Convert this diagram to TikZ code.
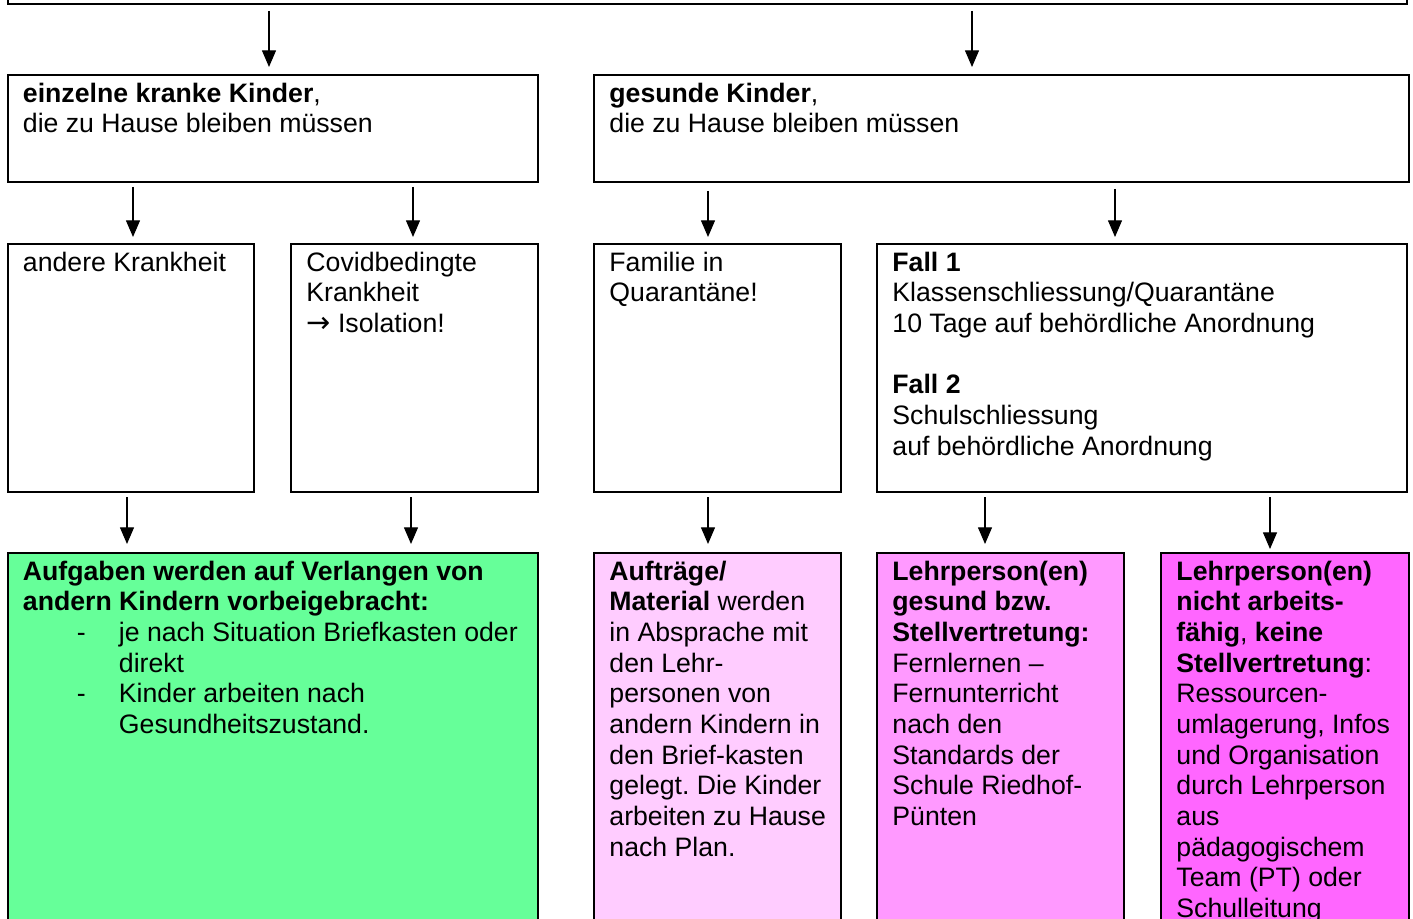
\documentclass[tikz,border=0pt]{standalone}
\usepackage{fontspec}
\setmainfont{Liberation Sans}
\newfontfamily\symfont{DejaVu Sans}
\usetikzlibrary{arrows.meta,calc,fit}
\frenchspacing
\definecolor{cgreen}{HTML}{66FF99}
\definecolor{cpinkA}{HTML}{FFCCFF}
\definecolor{cpinkB}{HTML}{FF99FF}
\definecolor{cpinkC}{HTML}{FF66FF}
\tikzset{
  box/.style={draw=black, line width=0.9pt, inner sep=0pt, rectangle},
  arr/.style={draw=black, line width=0.55pt, -{Triangle[width=6.3pt,length=7.5pt]}},
  txt/.style={anchor=north west, inner sep=0pt, align=left, font=\fontsize{12pt}{13.8pt}\selectfont}
}
\begin{document}
\begin{tikzpicture}[x=0.45pt, y=-0.45pt]
\useasboundingbox (0,0) rectangle (1413,919);
\clip (0,0) rectangle (1413,919);
% boxes
\node[box, fit={(8,-30) (1407,4)}] (top) {};
\node[box, fit={(8,75) (538,182)}] (b1) {};
\node[box, fit={(594,75) (1409,182)}] (b2) {};
\node[box, fit={(8,244) (254,492)}] (b3) {};
\node[box, fit={(291,244) (538,492)}] (b4) {};
\node[box, fit={(594,244) (841,492)}] (b5) {};
\node[box, fit={(877,244) (1407,492)}] (b6) {};
\node[box, fill=cgreen, fit={(8,553) (538,960)}] (g1) {};
\node[box, fill=cpinkA, fit={(594,553) (841,960)}] (g2) {};
\node[box, fill=cpinkB, fit={(877,553) (1124,960)}] (g3) {};
\node[box, fill=cpinkC, fit={(1161,553) (1409,960)}] (g4) {};
% texts
\node[txt] (t1) at ($(b1.north west)+(15.5,8.5)$) {\textbf{einzelne kranke Kinder},\\die zu Hause bleiben müssen};
\node[txt] (t2) at ($(b2.north west)+(16,8.5)$) {\textbf{gesunde Kinder},\\die zu Hause bleiben müssen};
\node[txt] (t3) at ($(b3.north west)+(15.5,8.5)$) {andere Krankheit};
\node[txt] (t4) at ($(b4.north west)+(16,8.5)$) {Covidbedingte\\Krankheit\\{\symfont\fontsize{13pt}{13.8pt}\selectfont →} Isolation!};
\node[txt] (t5) at ($(b5.north west)+(16,8.5)$) {Familie in\\Quarantäne!};
\node[txt] (t6) at ($(b6.north west)+(16,8.5)$) {\textbf{Fall 1}\\Klassenschliessung/Quarantäne\\10 Tage auf behördliche Anordnung\\[13.8pt]\textbf{Fall 2}\\Schulschliessung\\auf behördliche Anordnung};
\node[txt] (t7) at ($(g1.north west)+(15.5,8.5)$) {\textbf{Aufgaben werden auf Verlangen von}\\\textbf{andern Kindern vorbeigebracht:}\\
\makebox[43.2pt][l]{\hspace{24.3pt}-}je nach Situation Briefkasten oder\\
\hspace*{43.2pt}direkt\\
\makebox[43.2pt][l]{\hspace{24.3pt}-}Kinder arbeiten nach\\
\hspace*{43.2pt}Gesundheitszustand.};
\node[txt] (t8) at ($(g2.north west)+(16,8.5)$) {\textbf{Aufträge/}\\\textbf{Material} werden\\in Absprache mit\\den Lehr-\\personen von\\andern Kindern in\\den Brief-kasten\\gelegt. Die Kinder\\arbeiten zu Hause\\nach Plan.};
\node[txt] (t9) at ($(g3.north west)+(16,8.5)$) {\textbf{Lehrperson(en)}\\\textbf{gesund bzw.}\\\textbf{Stellvertretung:}\\Fernlernen --\\Fernunterricht\\nach den\\Standards der\\Schule Riedhof-\\Pünten};
\node[txt] (t10) at ($(g4.north west)+(16,8.5)$) {\textbf{Lehrperson(en)}\\\textbf{nicht arbeits-}\\\textbf{fähig}, \textbf{keine}\\\textbf{Stellvertretung}:\\Ressourcen-\\umlagerung, Infos\\und Organisation\\durch Lehrperson\\aus\\pädagogischem\\Team (PT) oder\\Schulleitung};
% arrows
\draw[arr] ($(top.south west)+(262,6)$) -- ($(b1.north west)+(262,-7)$);
\draw[arr] ($(top.south west)+(965,6)$) -- ($(b2.north west)+(379,-7)$);
\draw[arr] ($(b1.south west)+(126,4)$) -- ($(b3.north west)+(126,-6)$);
\draw[arr] ($(b1.south west)+(406,4)$) -- ($(b4.north west)+(123,-6)$);
\draw[arr] ($(b2.south west)+(115,8)$) -- ($(b5.north west)+(115,-6)$);
\draw[arr] ($(b2.south west)+(522,6)$) -- ($(b6.north west)+(239,-6)$);
\draw[arr] ($(b3.south west)+(120,4)$) -- ($(g1.north west)+(120,-8)$);
\draw[arr] ($(b4.south west)+(121,4)$) -- ($(g1.north west)+(404,-8)$);
\draw[arr] ($(b5.south west)+(115,4)$) -- ($(g2.north west)+(115,-8)$);
\draw[arr] ($(b6.south west)+(109,4)$) -- ($(g3.north west)+(109,-8)$);
\draw[arr] ($(b6.south west)+(394,4)$) -- ($(g4.north west)+(110,-3)$);
\end{tikzpicture}
\end{document}
